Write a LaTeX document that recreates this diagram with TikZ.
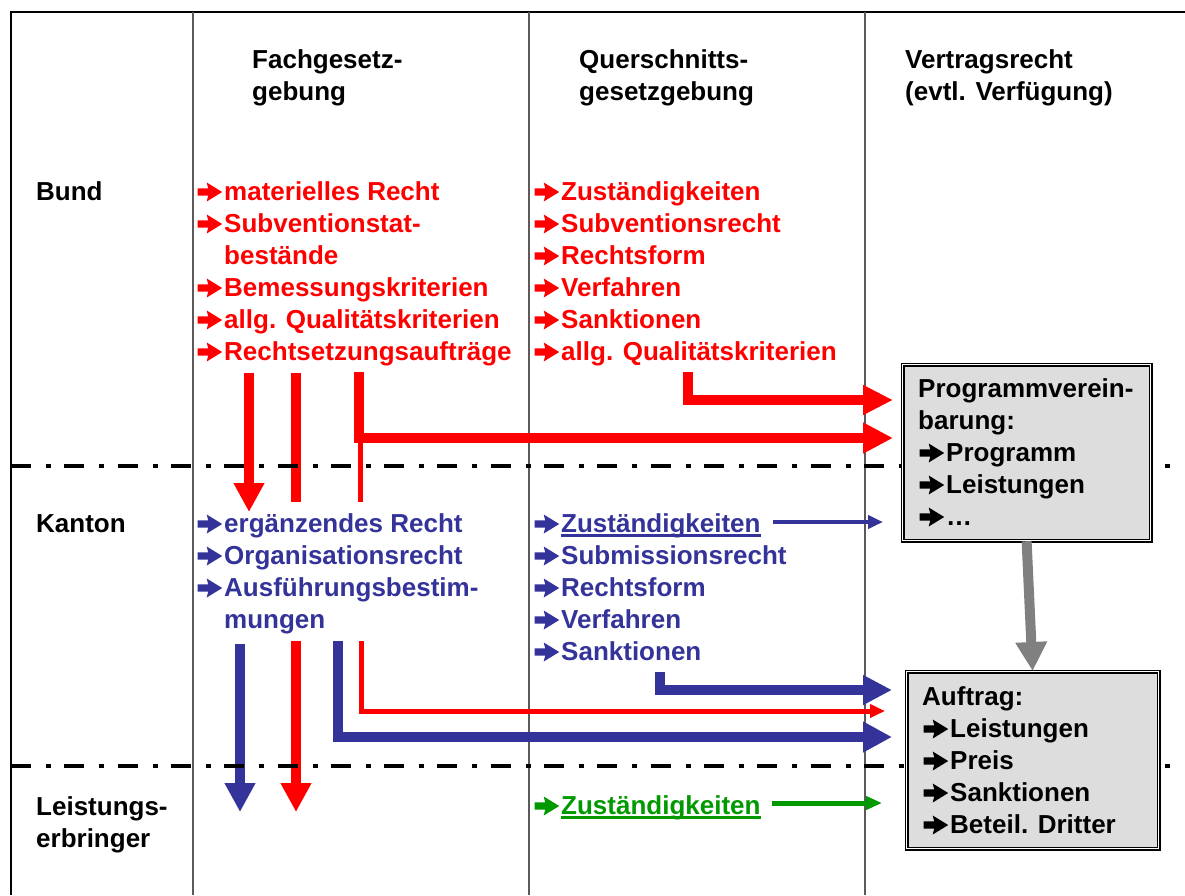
\documentclass[tikz,border=0pt]{standalone}
\usepackage{fontspec}
\setmainfont{Liberation Sans}
\usetikzlibrary{arrows.meta}
\definecolor{cred}{RGB}{255,0,0}
\definecolor{cblue}{RGB}{51,51,153}
\definecolor{cgreen}{RGB}{0,153,0}
\definecolor{boxfill}{RGB}{221,221,221}
\definecolor{colline}{RGB}{90,90,90}
\definecolor{garrow}{RGB}{128,128,128}
\newsavebox\ulbox
\newcommand\myul[1]{\sbox\ulbox{#1}\rlap{\rule[-5pt]{\wd\ulbox}{3.5pt}}\usebox\ulbox}
\newcommand\arr{\makebox[28pt][l]{\tikz[baseline=0pt,x=1pt,y=1pt]{\path (0,0); \fill[fill=.] (1.5,4.3) -- (12,4.3) -- (10.5,-1.5) -- (26,8) -- (10.5,17.5) -- (12,11.7) -- (1.5,11.7) -- cycle;}}}
\tikzset{
  txt/.style={anchor=base west, inner sep=0pt, font=\fontsize{26}{32}\selectfont\bfseries},
  redt/.style={txt, text=cred},
  bluet/.style={txt, text=cblue},
  greent/.style={txt, text=cgreen},
  frameline/.style={line width=2pt, black},
  colsep/.style={line width=1.5pt, colline},
  dashdotline/.style={line width=4.5pt, black, dash pattern=on 20pt off 15pt on 5pt off 13.3pt},
  fatarrow/.style={line width=10pt, line join=miter, -{Triangle[length=29pt,width=29pt]}},
  fatline/.style={line width=10pt},
  thinarrow/.style={line width=5pt, line join=miter, -{Triangle[length=15pt,width=13pt]}},
  infobox/.style={draw=black, fill=boxfill, line width=1.2pt, double=white, double distance=1.6pt, inner sep=0pt, anchor=north west},
}
\begin{document}
\begin{tikzpicture}[x=1pt,y=-1pt]
\useasboundingbox (0,0) rectangle (1185,895);
\fill[white] (0,0) rectangle (1185,895);

% frame and columns
\draw[frameline] (1185,12) -- (11,12) -- (11,895);
\draw[colsep] (193,12) -- (193,895);
\draw[colsep] (529,12) -- (529,895);
\draw[colsep] (865,12) -- (865,895);

% headers
\node[txt] (h1a) at (252,68) {Fachgesetz-};
\node[txt] (h1b) at (252,100) {gebung};
\node[txt] (h2a) at (579,68) {Querschnitts-};
\node[txt] (h2b) at (579,100) {gesetzgebung};
\node[txt] (h3a) at (905,68) {Vertragsrecht};
\node[txt] (h3b) at (905,100) {(evtl. Verfügung)};

% row labels
\node[txt] (rbund) at (36,200) {Bund};
\node[txt] (rkanton) at (36,532) {Kanton};
\node[txt] (rle1) at (36,815) {Leistungs-};
\node[txt] (rle2) at (36,847) {erbringer};

% Bund, Fachgesetzgebung
\node[redt] (b1) at (196,200) {\arr materielles Recht};
\node[redt] (b2) at (196,232) {\arr Subventionstat-};
\node[redt] (b3) at (224,264) {bestände};
\node[redt] (b4) at (196,296) {\arr Bemessungskriterien};
\node[redt] (b5) at (196,328) {\arr allg. Qualitätskriterien};
\node[redt] (b6) at (196,360) {\arr Rechtsetzungsaufträge};

% Bund, Querschnitt
\node[redt] (q1) at (533,200) {\arr Zuständigkeiten};
\node[redt] (q2) at (533,232) {\arr Subventionsrecht};
\node[redt] (q3) at (533,264) {\arr Rechtsform};
\node[redt] (q4) at (533,296) {\arr Verfahren};
\node[redt] (q5) at (533,328) {\arr Sanktionen};
\node[redt] (q6) at (533,360) {\arr allg. Qualitätskriterien};

% Kanton, Fachgesetzgebung
\node[bluet] (k1) at (196,532) {\arr ergänzendes Recht};
\node[bluet] (k2) at (196,564) {\arr Organisationsrecht};
\node[bluet] (k3) at (196,596) {\arr Ausführungsbestim-};
\node[bluet] (k4) at (224,628) {mungen};

% Kanton, Querschnitt
\node[bluet] (kq1) at (533,532) {\arr\myul{Zuständigkeiten}};
\node[bluet] (kq2) at (533,564) {\arr Submissionsrecht};
\node[bluet] (kq3) at (533,596) {\arr Rechtsform};
\node[bluet] (kq4) at (533,628) {\arr Verfahren};
\node[bluet] (kq5) at (533,660) {\arr Sanktionen};

% Leistungserbringer
\node[greent] (lq1) at (533,814) {\arr\myul{Zuständigkeiten}};

% coordinates for connectors
\coordinate (ra1s) at (249,373); \coordinate (ra1e) at (249,512);
\coordinate (ra2s) at (296,373); \coordinate (ra2e) at (296,502);
\coordinate (ra3s) at (359,372); \coordinate (ra3e) at (893,438);
\coordinate (ra3b) at (360,438); \coordinate (ra3f) at (360,502);
\coordinate (rq6s) at (688,372); \coordinate (rq6e) at (893,400);
\coordinate (kbz1s) at (773,522); \coordinate (kbz1e) at (883,522);
\coordinate (kb1s) at (240,644); \coordinate (kb1e) at (240,812);
\coordinate (kr1s) at (296,641); \coordinate (kr1e) at (296,812);
\coordinate (kb2s) at (338,641); \coordinate (kb2e) at (892,737);
\coordinate (kr2s) at (361,641); \coordinate (kr2e) at (885,711);
\coordinate (kb3s) at (660,672); \coordinate (kb3e) at (892,690);
\coordinate (gz1s) at (772,803); \coordinate (gz1e) at (882,803);

% Bund arrows
\draw[fatarrow, cred] (ra1s) -- (ra1e);
\draw[fatline, cred] (ra2s) -- (ra2e);
\draw[fatarrow, cred, -{Triangle[length=30pt,width=29pt]}] (ra3s) |- (ra3e);
\draw[line width=5pt, cred] (ra3b) -- (ra3f);
\draw[fatarrow, cred, -{Triangle[length=30pt,width=28pt]}] (rq6s) |- (rq6e);

% Kanton arrows
\draw[line width=4.5pt, cblue, -{Triangle[length=15pt,width=13pt]}] (kbz1s) -- (kbz1e);
\draw[fatarrow, cblue] (kb1s) -- (kb1e);
\draw[fatarrow, cred] (kr1s) -- (kr1e);
\draw[fatarrow, cblue] (kb2s) |- (kb2e);
\draw[thinarrow, cred] (kr2s) |- (kr2e);
\draw[fatarrow, cblue, -{Triangle[length=29pt,width=28pt]}] (kb3s) |- (kb3e);

% Leistungserbringer arrow
\draw[line width=5pt, cgreen, -{Triangle[length=16pt,width=13pt]}] (gz1s) -- (gz1e);

% dash-dot level separators
\draw[dashdotline] (11,466) -- (1172,466);
\draw[dashdotline] (11,766) -- (1172,766);

% boxes
\node[infobox, minimum width=248pt, minimum height=176pt] (pv) at (902,364) {};
\node[infobox, minimum width=252pt, minimum height=177pt] (ap) at (906,671) {};

\node[txt] (pv1) at (918,397) {Programmverein-};
\node[txt] (pv2) at (918,429) {barung:};
\node[txt] (pv3) at (918,461) {\arr Programm};
\node[txt] (pv4) at (918,493) {\arr Leistungen};
\node[txt] (pv5) at (918,525) {\arr …};

\node[txt] (ap1) at (922,705) {Auftrag:};
\node[txt] (ap2) at (922,737) {\arr Leistungen};
\node[txt] (ap3) at (922,769) {\arr Preis};
\node[txt] (ap4) at (922,801) {\arr Sanktionen};
\node[txt] (ap5) at (922,833) {\arr Beteil. Dritter};

% gray arrow between boxes
\draw[fatarrow, garrow, -{Triangle[length=29pt,width=30pt]}] (pv.south) -- (ap.north);
\end{tikzpicture}
\end{document}
